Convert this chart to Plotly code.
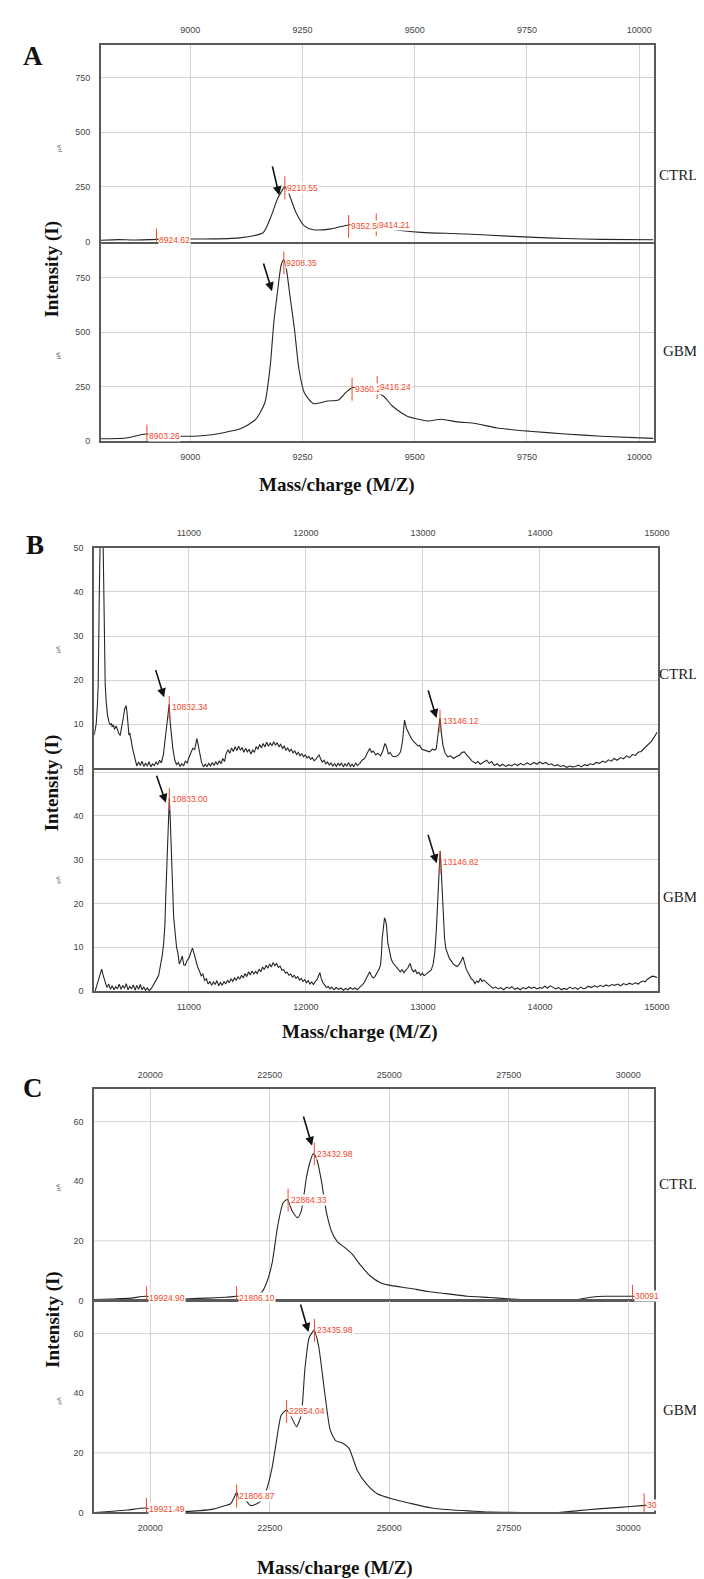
import plotly.graph_objects as go

W, H = 704, 1579
RED = '#f2472b'
LINE = '#262626'
FRAME = '#5a5a5a'
GRID = '#d4d4d4'

# ---------------- Panel A (8800-10030 m/z) ----------------
a_xticks = [9000, 9250, 9500, 9750, 10000]
a_yticks = [0, 250, 500, 750]
a_ctrl_mz = [8801, 8840, 8873, 8925, 8980, 9050, 9114, 9162, 9178, 9194, 9202, 9210,
             9218, 9234, 9254, 9274, 9314, 9352, 9386, 9414, 9450, 9514, 9595, 9659,
             9755, 9835, 9915, 10031]
a_ctrl_int = [6, 9, 7, 10, 12, 12, 18, 40, 105, 195, 225, 250,
              228, 139, 72, 54, 58, 76, 80, 70, 55, 42, 36, 30,
              20, 14, 10, 8]
a_gbm_mz = [8801, 8857, 8901, 8970, 9026, 9074, 9114, 9146, 9166, 9178, 9186, 9194,
            9202, 9208, 9214, 9222, 9232, 9242, 9254, 9274, 9306, 9330, 9346, 9360,
            9400, 9430, 9450, 9482, 9530, 9558, 9595, 9635, 9683, 9755, 9835, 9915, 10031]
a_gbm_int = [10, 14, 32, 22, 24, 38, 58, 100, 176, 345, 545, 683,
             806, 835, 790, 667, 514, 330, 222, 172, 184, 189, 222, 245,
             235, 207, 161, 115, 92, 100, 88, 80, 60, 45, 32, 22, 12]
a_ctrl_peak_lbl = ['8924.62', '9210.55', '9352.58', '9414.21']
a_ctrl_peak_mz = [8924.62, 9210.55, 9352.58, 9414.21]
a_ctrl_peak_y = [8, 246, 69, 77]
a_gbm_peak_lbl = ['8903.26', '9208.35', '9360.28', '9416.24']
a_gbm_peak_mz = [8903.26, 9208.35, 9360.28, 9416.24]
a_gbm_peak_y = [23, 819, 238, 246]
a_ctrl_arrows = [(9182, 351, 9198, 212)]
a_gbm_arrows = [(9162, 823, 9182, 689)]

# ---------------- Panel B (10200-15000 m/z) ----------------
b_xticks = [11000, 12000, 13000, 14000, 15000]
b_yticks = [0, 10, 20, 30, 40, 50]
# (m/z, intensity) pairs
b_ctrl_points = [
    (10191, 7.5), (10200, 9), (10208, 10), (10218, 14), (10225, 18.7), (10235, 40), (10242, 80),
    (10259, 80), (10268, 50), (10276, 28), (10285, 19), (10294, 15), (10305, 12), (10317, 10.5),
    (10328, 9.8), (10338, 10.2), (10345, 9.4), (10355, 9.8), (10365, 8.8), (10379, 9.6), (10390, 8.4),
    (10400, 8.0), (10413, 7.4), (10422, 8.6), (10430, 9.8), (10440, 11.5), (10452, 13.5), (10464, 14.2),
    (10472, 12.5), (10480, 9.0), (10488, 7.5), (10495, 8.0), (10505, 6.2), (10515, 5.5), (10522, 4.1),
    (10532, 3.0), (10540, 2.0), (10555, 0.5), (10570, 1.4), (10585, 0.6), (10600, 1.6), (10615, 0.4),
    (10630, 1.2), (10645, 0.5), (10660, 1.5), (10675, 0.3), (10690, 1.0), (10705, 0.6), (10720, 1.4),
    (10735, 0.8), (10750, 1.8), (10765, 1.2), (10782, 3), (10795, 6), (10805, 9), (10815, 12),
    (10823, 13.5), (10832, 14.5), (10840, 10.5), (10850, 7), (10863, 4.5), (10880, 1.8), (10895, 0.8),
    (10910, 1.3), (10925, 0.4), (10940, 1.0), (10955, 0.5), (10970, 1.6), (10985, 1.2), (11003, 2.6),
    (11020, 3.5), (11034, 4.5), (11050, 4.2), (11060, 6.0), (11068, 6.7), (11078, 5.5), (11085, 4.0),
    (11096, 3), (11110, 1.2), (11125, 0.3), (11140, 0.9), (11155, 0.4), (11170, 1.1), (11185, 0.5),
    (11200, 1.3), (11215, 0.6), (11230, 1.5), (11245, 0.8), (11260, 1.7), (11275, 1.0), (11290, 2.2),
    (11305, 1.5), (11317, 3.2), (11335, 4.2), (11350, 3.4), (11365, 4.6), (11380, 3.8), (11395, 4.9),
    (11410, 4.0), (11425, 5.0), (11440, 4.1), (11455, 4.7), (11470, 3.6), (11485, 4.5), (11500, 3.7),
    (11515, 4.3), (11530, 3.2), (11545, 4.1), (11560, 3.6), (11575, 4.9), (11590, 4.3), (11605, 5.4),
    (11620, 4.6), (11635, 5.6), (11650, 4.8), (11665, 5.9), (11680, 5.0), (11695, 5.7), (11710, 5.1),
    (11725, 6.0), (11740, 5.2), (11755, 5.8), (11770, 4.9), (11785, 5.4), (11800, 4.5), (11815, 5.0),
    (11830, 4.1), (11845, 4.6), (11860, 3.8), (11875, 4.3), (11890, 3.5), (11905, 3.9), (11920, 3.1),
    (11935, 3.6), (11950, 2.8), (11965, 3.3), (11980, 2.6), (11995, 3.0), (12010, 2.3), (12025, 2.7),
    (12040, 2.0), (12055, 2.4), (12070, 1.7), (12085, 2.0), (12100, 2.6), (12113, 3.0), (12125, 2.2),
    (12140, 1.4), (12155, 1.8), (12170, 1.0), (12185, 1.4), (12200, 0.7), (12215, 1.2), (12230, 0.5),
    (12245, 1.0), (12260, 0.4), (12275, 1.1), (12290, 0.6), (12305, 1.2), (12320, 0.3), (12335, 1.0),
    (12350, 0.5), (12365, 1.3), (12380, 0.4), (12395, 0.9), (12410, 0.3), (12425, 1.2), (12440, 0.6),
    (12461, 1.1), (12480, 1.8), (12502, 2.2), (12525, 3.4), (12546, 4.5), (12560, 3.6), (12575, 3.9),
    (12597, 3.0), (12615, 3.4), (12638, 2.8), (12655, 3.8), (12676, 5.6), (12690, 4.8), (12705, 3.2),
    (12720, 3.6), (12740, 2.7), (12768, 2.6), (12790, 3.0), (12809, 3.7), (12825, 6.0), (12843, 10.9),
    (12860, 9.0), (12877, 7.9), (12900, 6.8), (12922, 6), (12940, 5.6), (12960, 5.0), (12973, 5.2),
    (12990, 4.3), (13014, 4.1), (13035, 3.9), (13058, 3.7), (13080, 4.3), (13102, 4.1), (13115, 4.5),
    (13126, 6.7), (13138, 9.5), (13146, 11.4), (13158, 8.0), (13171, 5.2), (13190, 3.4), (13212, 2.6),
    (13235, 2.8), (13263, 2.2), (13285, 2.6), (13314, 3), (13335, 3.6), (13355, 3.7), (13375, 3.0),
    (13399, 2.2), (13420, 1.6), (13451, 1.1), (13470, 1.5), (13490, 0.9), (13519, 1.3), (13545, 1.8),
    (13567, 1.1), (13587, 1.5), (13610, 0.6), (13635, 1.0), (13655, 0.5), (13680, 0.9), (13710, 0.4),
    (13735, 0.8), (13758, 0.5), (13785, 1.0), (13810, 0.6), (13835, 1.1), (13860, 0.7), (13890, 1.2),
    (13920, 0.8), (13950, 1.3), (13975, 0.9), (13997, 1.4), (14025, 1.0), (14050, 1.3), (14075, 0.8),
    (14099, 1.0), (14125, 0.5), (14150, 0.8), (14175, 0.4), (14201, 0.6), (14230, 0.2), (14255, 0.5),
    (14280, 0.3), (14304, 0.4), (14330, 0.7), (14355, 0.3), (14380, 0.8), (14406, 0.6), (14430, 1.0),
    (14455, 0.8), (14480, 1.3), (14509, 1.1), (14535, 1.6), (14560, 1.3), (14585, 1.9), (14611, 1.6),
    (14635, 2.2), (14660, 1.8), (14690, 2.4), (14713, 2.1), (14740, 2.8), (14765, 2.4), (14790, 3.1),
    (14816, 2.9), (14840, 3.6), (14865, 3.8), (14884, 4.3), (14905, 4.8), (14930, 5.5), (14952, 6.1),
    (14975, 7.0), (15003, 8.2)]
b_gbm_points = [
    (10199, 0), (10215, 1.5), (10230, 2.9), (10245, 4.2), (10255, 5.0), (10268, 3.6), (10286, 2.1),
    (10300, 0.8), (10315, 1.6), (10330, 0.4), (10345, 1.2), (10360, 0.3), (10375, 1.0), (10390, 0.5),
    (10405, 1.6), (10420, 0.4), (10435, 1.3), (10450, 0.6), (10465, 1.7), (10480, 0.3), (10495, 1.1),
    (10510, 0.5), (10525, 1.4), (10540, 0.2), (10555, 1.3), (10570, 0.4), (10585, 1.5), (10600, 0.3),
    (10615, 0.9), (10630, 0.2), (10645, 0.7), (10660, 0.1), (10680, 0.6), (10700, 1.4), (10720, 2.5),
    (10742, 3.6), (10760, 6.0), (10773, 8.2), (10785, 11), (10795, 15), (10803, 22), (10811, 28.6),
    (10818, 36), (10823, 40), (10833, 44), (10840, 40), (10845, 36.2), (10852, 29), (10860, 22.6),
    (10870, 17), (10882, 13.5), (10895, 10), (10907, 8.6), (10918, 6.2), (10929, 6.8), (10944, 8.0),
    (10956, 6.0), (10969, 5.9), (10985, 7.0), (11000, 7.5), (11015, 8.7), (11031, 9.8), (11045, 8.5),
    (11060, 6.9), (11075, 5.5), (11090, 4.6), (11105, 3.5), (11120, 3.9), (11135, 2.4), (11150, 2.8),
    (11165, 1.6), (11180, 2.2), (11195, 1.3), (11210, 2.1), (11225, 1.5), (11240, 2.4), (11255, 1.2),
    (11270, 2.0), (11285, 1.3), (11300, 2.2), (11315, 1.6), (11330, 2.5), (11345, 1.9), (11360, 2.8),
    (11375, 2.2), (11390, 3.0), (11405, 2.4), (11420, 3.3), (11435, 2.7), (11450, 3.6), (11465, 3.0),
    (11480, 4.0), (11495, 3.3), (11510, 4.4), (11525, 3.7), (11540, 4.6), (11555, 3.9), (11570, 4.5),
    (11585, 4.0), (11600, 5.0), (11615, 4.4), (11630, 5.5), (11645, 4.9), (11660, 5.9), (11675, 5.2),
    (11690, 6.2), (11705, 5.5), (11720, 6.5), (11735, 5.8), (11750, 6.3), (11765, 5.4), (11780, 5.7),
    (11795, 4.8), (11810, 4.9), (11825, 4.1), (11840, 4.3), (11855, 3.6), (11870, 3.9), (11885, 3.2),
    (11900, 3.6), (11915, 2.9), (11930, 3.3), (11945, 2.5), (11960, 2.9), (11975, 2.2), (11990, 2.6),
    (12005, 1.9), (12020, 2.4), (12035, 1.6), (12050, 2.1), (12065, 1.5), (12080, 2.2), (12095, 2.6),
    (12110, 3.6), (12120, 4.2), (12130, 3.0), (12145, 1.9), (12160, 1.4), (12175, 0.8), (12190, 1.1),
    (12205, 0.5), (12220, 0.9), (12240, 0.3), (12260, 0.8), (12280, 0.4), (12300, 0.7), (12320, 0.2),
    (12340, 0.6), (12360, 0.3), (12380, 0.8), (12400, 0.4), (12420, 0.7), (12440, 0.3), (12460, 0.9),
    (12480, 1.3), (12500, 2.0), (12515, 2.9), (12530, 3.8), (12545, 4.4), (12560, 3.5), (12575, 3.0),
    (12590, 3.3), (12610, 4.2), (12625, 5.0), (12637, 5.9), (12645, 8.0), (12652, 12), (12662, 15),
    (12672, 16.7), (12680, 16.2), (12689, 15), (12700, 11), (12714, 8.9), (12730, 7.2), (12745, 6.4),
    (12761, 5.9), (12775, 5.2), (12790, 4.8), (12807, 4.4), (12822, 4.9), (12838, 4.2), (12854, 4.8),
    (12870, 5.2), (12882, 5.9), (12891, 6.3), (12905, 5.0), (12920, 4.4), (12935, 4.8), (12950, 4.0),
    (12965, 4.3), (12980, 3.6), (12995, 4.1), (13010, 3.5), (13025, 3.8), (13040, 4.1), (13055, 4.6),
    (13071, 4.8), (13088, 6.2), (13102, 8.9), (13115, 14), (13124, 19.5), (13134, 25), (13140, 28.6),
    (13147, 32), (13152, 30), (13158, 26.4), (13166, 21), (13174, 17.3), (13185, 12), (13196, 9.7),
    (13210, 8.6), (13227, 7.4), (13245, 6.8), (13258, 6.2), (13273, 5.9), (13290, 5.6), (13304, 5.9),
    (13322, 6.6), (13342, 7.8), (13355, 6.4), (13370, 5.0), (13382, 4.4), (13398, 3.6), (13413, 2.8),
    (13429, 2.5), (13445, 1.7), (13460, 2.3), (13475, 2.0), (13491, 2.9), (13505, 2.2), (13520, 2.5),
    (13537, 2.1), (13555, 1.5), (13570, 1.2), (13584, 1.0), (13600, 0.6), (13620, 0.9), (13646, 0.5),
    (13665, 0.8), (13690, 0.3), (13715, 0.9), (13739, 0.6), (13760, 1.0), (13785, 0.4), (13810, 0.7),
    (13832, 0.3), (13855, 0.8), (13880, 0.5), (13905, 1.0), (13925, 0.6), (13950, 0.9), (13975, 0.5),
    (14000, 0.8), (14019, 0.6), (14040, 1.1), (14065, 0.7), (14090, 1.2), (14112, 0.8), (14135, 0.5),
    (14160, 0.8), (14185, 0.3), (14205, 0.6), (14230, 0.4), (14255, 0.9), (14280, 0.5), (14300, 0.8),
    (14325, 0.4), (14350, 0.9), (14375, 0.5), (14391, 0.7), (14415, 1.1), (14440, 0.8), (14465, 1.2),
    (14490, 0.9), (14516, 1.3), (14540, 1.0), (14565, 1.4), (14590, 1.1), (14615, 1.5), (14640, 1.3),
    (14665, 1.6), (14690, 1.2), (14715, 1.7), (14740, 1.4), (14764, 1.8), (14790, 1.5), (14815, 1.9),
    (14840, 1.6), (14857, 2.0), (14880, 2.3), (14900, 2.1), (14919, 2.7), (14940, 3.0), (14960, 3.4),
    (14981, 3.3), (15003, 3.1)]
b_ctrl_mz = [p[0] for p in b_ctrl_points]
b_ctrl_int = [p[1] for p in b_ctrl_points]
b_gbm_mz = [p[0] for p in b_gbm_points]
b_gbm_int = [p[1] for p in b_gbm_points]
b_ctrl_peak_lbl = ['10832.34', '13146.12']
b_ctrl_peak_mz = [10832.34, 13146.12]
b_ctrl_peak_y = [13.8, 10.7]
b_gbm_peak_lbl = ['10833.00', '13146.82']
b_gbm_peak_mz = [10833.00, 13146.82]
b_gbm_peak_y = [43.8, 29.4]
b_ctrl_arrows = [(10713, 22.6, 10788, 16.1), (13041, 18, 13116, 11.4)]
b_gbm_arrows = [(10720, 49.5, 10804, 43), (13040, 36, 13118, 29.2)]

# ---------------- Panel C (18800-30550 m/z) ----------------
c_xticks = [20000, 22500, 25000, 27500, 30000]
c_yticks = [0, 20, 40, 60]
c_grid_y = [20, 60]
c_ctrl_mz = [18841, 19220, 19598, 19902, 20280, 20735, 21189, 21568, 21795, 22100, 22326,
             22439, 22553, 22667, 22780, 22871, 22970, 23083, 23159, 23273, 23348, 23409,
             23477, 23576, 23689, 23803, 23917, 24068, 24220, 24409, 24598, 24826, 25053,
             25432, 25811, 26189, 26644, 27098, 27477, 27856, 28386, 28917, 29220, 29523,
             30053, 30508]
c_ctrl_int = [0.3, 0.5, 0.8, 1.4, 0.5, 0.5, 0.8, 1.1, 1.4, 1.8, 2.6,
              6.1, 12.8, 25, 32.8, 33.9, 30, 27.8, 30, 41.7, 46.7, 49.2,
              47.8, 40.6, 29.4, 22.8, 19.7, 17.8, 15.6, 11.7, 8.3, 5.9, 5,
              4.1, 3, 2.3, 1.4, 1, 0.6, 0.2, 0.2, 0.3, 1.1, 1.4,
              1.4, 1.4]
c_gbm_mz = [18841, 19220, 19523, 19902, 20129, 20583, 21038, 21341, 21568, 21682, 21758,
            21811, 21871, 21985, 22098, 22250, 22364, 22462, 22553, 22644, 22742, 22856,
            22947, 23061, 23159, 23235, 23326, 23430, 23523, 23652, 23765, 23879, 24030,
            24159, 24333, 24523, 24750, 25053, 25432, 25886, 26341, 26795, 27098, 27856,
            28538, 28955, 29371, 29826, 30280, 30508]
c_gbm_int = [0, 0.4, 0.8, 1.5, 0.6, 0.3, 0.6, 1.2, 2.3, 2.9, 5.1,
             6.8, 4, 4.2, 2.3, 3.1, 4.6, 9.1, 15.3, 24.3, 32.7, 34.4,
             32.2, 28.8, 32.7, 47.9, 58.7, 61.1, 55.8, 40, 27.7, 24.1, 23.2,
             21.5, 14.1, 9.6, 6.3, 4.6, 3.1, 1.5, 0.8, 0.4, 0.1, 0,
             0, 0.6, 1.2, 1.7, 2.3, 2.6]
c_ctrl_peak_lbl = ['19924.90', '21806.10', '22884.33', '23432.98', '30091']
c_ctrl_peak_mz = [19924.90, 21806.10, 22884.33, 23432.98, 30091]
c_ctrl_peak_y = [0.9, 0.9, 33.7, 49.2, 1.4]
c_gbm_peak_lbl = ['19921.49', '21806.87', '22854.04', '23435.98', '30']
c_gbm_peak_mz = [19921.49, 21806.87, 22854.04, 23435.98, 30333]
c_gbm_peak_y = [1.0, 5.5, 33.9, 61.1, 2.6]
c_ctrl_arrows = [(23197, 62.2, 23386, 51.9)]
c_gbm_arrows = [(23136, 70.3, 23311, 60.6)]

# ---------------- layout geometry (pixels) ----------------
panels = [
    dict(mz=a_ctrl_mz, it=a_ctrl_int, xr=[8801, 10034], yr=[0, 900], xt=a_xticks, yt=a_yticks,
         px=(94.6, 657.7), py=(32, 230), top=True, lbl=a_ctrl_peak_lbl, pmz=a_ctrl_peak_mz,
         py_l=a_ctrl_peak_y, arrows=a_ctrl_arrows, grid=None, shape='spline'),
    dict(mz=a_gbm_mz, it=a_gbm_int, xr=[8801, 10034], yr=[0, 905], xt=a_xticks, yt=a_yticks,
         px=(94.6, 657.7), py=(232.7, 430.7), top=False, lbl=a_gbm_peak_lbl, pmz=a_gbm_peak_mz,
         py_l=a_gbm_peak_y, arrows=a_gbm_arrows, grid=None, shape='spline'),
    dict(mz=b_ctrl_mz, it=b_ctrl_int, xr=[10192, 15005], yr=[0, 50], xt=b_xticks, yt=b_yticks,
         px=(87.8, 660.8), py=(538.3, 760), top=True, lbl=b_ctrl_peak_lbl, pmz=b_ctrl_peak_mz,
         py_l=b_ctrl_peak_y, arrows=b_ctrl_arrows, grid=None, shape='linear'),
    dict(mz=b_gbm_mz, it=b_gbm_int, xr=[10192, 15005], yr=[0, 50.5], xt=b_xticks, yt=b_yticks,
         px=(87.8, 660.8), py=(761.7, 984.3), top=False, lbl=b_gbm_peak_lbl, pmz=b_gbm_peak_mz,
         py_l=b_gbm_peak_y, arrows=b_gbm_arrows, grid=None, shape='linear'),
    dict(mz=c_ctrl_mz, it=c_ctrl_int, xr=[18830, 30550], yr=[0, 70.8], xt=c_xticks, yt=c_yticks,
         px=(87.8, 657.7), py=(1083.3, 1295.7), top=True, lbl=c_ctrl_peak_lbl, pmz=c_ctrl_peak_mz,
         py_l=c_ctrl_peak_y, arrows=c_ctrl_arrows, grid=c_grid_y, shape='spline'),
    dict(mz=c_gbm_mz, it=c_gbm_int, xr=[18830, 30550], yr=[0, 70.8], xt=c_xticks, yt=c_yticks,
         px=(87.8, 657.7), py=(1296.7, 1509), top=False, lbl=c_gbm_peak_lbl, pmz=c_gbm_peak_mz,
         py_l=c_gbm_peak_y, arrows=c_gbm_arrows, grid=c_grid_y, shape='spline'),
]

fig = go.Figure()
shapes = []
annotations = []
tick_font = dict(family='Liberation Sans, Arial', size=9, color='#444444')

for i, p in enumerate(panels, start=1):
    xid = 'x' if i == 1 else f'x{i}'
    yid = 'y' if i == 1 else f'y{i}'
    xkey = 'xaxis' if i == 1 else f'xaxis{i}'
    ykey = 'yaxis' if i == 1 else f'yaxis{i}'
    fig.add_trace(go.Scatter(x=p['mz'], y=p['it'], mode='lines', xaxis=xid, yaxis=yid,
                             line=dict(color=LINE, width=1.1, shape=p['shape'], smoothing=0.6),
                             showlegend=False))
    xd = [p['px'][0] / W, p['px'][1] / W]
    yd = [1 - p['py'][1] / H, 1 - p['py'][0] / H]
    fig.layout[xkey] = dict(domain=xd, range=p['xr'], anchor=yid, side='top' if p['top'] else 'bottom',
                            tickvals=p['xt'], ticktext=[str(v) for v in p['xt']], tickfont=tick_font,
                            showgrid=True, gridcolor=GRID, gridwidth=1, zeroline=False,
                            showline=True, mirror=True, linecolor=FRAME, linewidth=2,
                            ticks='', ticklabelstandoff=6)
    fig.layout[ykey] = dict(domain=yd, range=p['yr'], anchor=xid, tickvals=p['yt'],
                            ticktext=[str(v) for v in p['yt']], tickfont=tick_font,
                            showgrid=p['grid'] is None, gridcolor=GRID, gridwidth=1, zeroline=False,
                            showline=True, mirror=True, linecolor=FRAME, linewidth=2,
                            ticks='', ticklabelstandoff=7)
    if p['grid'] is not None:
        for g in p['grid']:
            shapes.append(dict(type='line', xref=f'{xid} domain', yref=yid, x0=0, x1=1, y0=g, y1=g,
                               line=dict(color=GRID, width=1), layer='below'))
    # peak markers and labels
    ppx = p['py'][1] - p['py'][0]
    half = 11.5 / ppx * (p['yr'][1] - p['yr'][0])
    for t, xm, yl in zip(p['lbl'], p['pmz'], p['py_l']):
        annotations.append(dict(x=xm, y=yl, xref=xid, yref=yid, text=t, showarrow=False,
                                xanchor='left', yanchor='middle', xshift=1.5,
                                font=dict(family='Liberation Sans, Arial', size=8.5, color=RED),
                                bgcolor='white', borderpad=0))
        shapes.append(dict(type='line', xref=xid, yref=yid, x0=xm, x1=xm, y0=yl - half, y1=yl + half,
                           line=dict(color=RED, width=1)))
    for (tx, ty, hx, hy) in p['arrows']:
        annotations.append(dict(x=hx, y=hy, ax=tx, ay=ty, xref=xid, yref=yid, axref=xid, ayref=yid,
                                text='', showarrow=True, arrowhead=2, arrowsize=1.1, arrowwidth=1.6,
                                arrowcolor='#111111'))

serif = 'Liberation Serif, Times New Roman, serif'

def ptext(text, xp, yp, size, angle=0, xanchor='center', color='#111111'):
    annotations.append(dict(x=xp / W, y=1 - yp / H, xref='paper', yref='paper', text=text,
                            showarrow=False, xanchor=xanchor, yanchor='middle', textangle=angle,
                            font=dict(family=serif, size=size, color=color)))

# panel letters
ptext('<b>A</b>', 25, 43, 27)
ptext('<b>B</b>', 27, 535, 27)
ptext('<b>C</b>', 25, 1082, 27)
# group labels
for t, yp in [('CTRL', 163), ('GBM', 340), ('CTRL', 665), ('GBM', 890), ('CTRL', 1178), ('GBM', 1406)]:
    ptext(t, 703, yp, 15, xanchor='right', color='#222222')
# axis titles
for yp in [258, 775, 1315]:
    ptext('<b>Intensity (I)</b>', 45, yp, 19, angle=-90)
for xp, yp in [(335, 475), (358, 1025), (333, 1565)]:
    ptext('<b>Mass/charge (M/Z)</b>', xp, yp, 19)
# small instrument axis glyphs
for yp in [131, 340, 641, 873, 1188, 1403]:
    annotations.append(dict(x=46 / W, y=1 - yp / H, xref='paper', yref='paper', text='µA',
                            showarrow=False, textangle=-90,
                            font=dict(family='Liberation Sans, Arial', size=6, color='#555555')))

fig.update_layout(width=W, height=H, margin=dict(l=0, r=0, t=0, b=0),
                  paper_bgcolor='white', plot_bgcolor='white',
                  shapes=shapes, annotations=annotations, showlegend=False)

fig.write_html('out.html')
